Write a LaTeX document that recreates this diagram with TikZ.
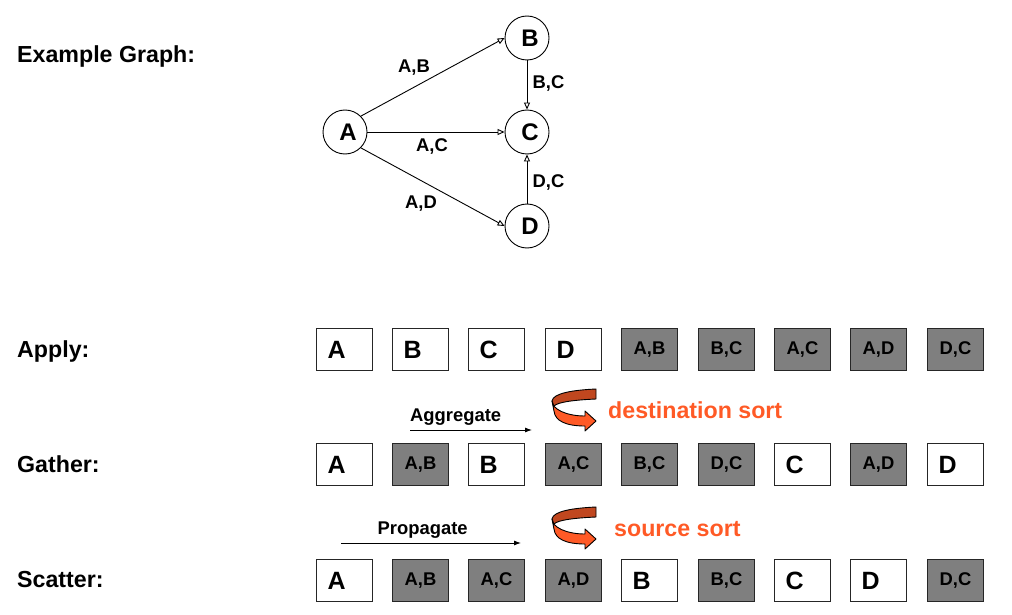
\documentclass[tikz,border=0pt]{standalone}
\usepackage{fontspec}
\setmainfont{Liberation Sans}
\usetikzlibrary{arrows.meta}
\newcommand{\fs}[1]{\fontsize{#1}{#1}\selectfont\bfseries}
\definecolor{grayfill}{HTML}{7F7F7F}
\definecolor{ribbonfront}{HTML}{FF5A26}
\definecolor{ribbonback}{HTML}{C0471F}
\tikzset{
  vertex/.style={circle,draw=black,line width=0.9pt,fill=white,inner sep=0pt,minimum size=44pt,font=\fs{24}},
  wbox/.style={rectangle,draw=black!85,line width=1pt,fill=white,minimum height=42pt,inner xsep=11pt,inner ysep=0pt,text width=34pt,align=left,font=\fs{25}},
  gbox/.style={rectangle,draw=black!85,line width=1pt,fill=grayfill,minimum height=42pt,minimum width=56pt,inner sep=0pt,font=\fs{18.4}},
  heading/.style={anchor=base west,inner sep=0pt,font=\fs{23.2}},
  edgelabel/.style={inner sep=0pt,font=\fs{18.4}},
  opstext/.style={anchor=base west,inner sep=0pt,font=\fs{18.4}},
  sorttext/.style={anchor=base west,inner sep=0pt,text=ribbonfront,font=\fs{23.2}},
  graphedge/.style={-{Triangle[open,length=7pt,width=6pt]},line width=0.9pt},
  oparrow/.style={-{Latex[length=7pt,width=5pt]},line width=0.9pt},
  ribbonline/.style={draw=black,line width=0.9pt,line join=round}
}
\newcommand{\ribbon}[2]{%
  \begin{scope}[shift={(#1,#2)}]
    \path[ribbonline,fill=ribbonback] (44,0) .. controls (22,1) and (1,4) .. (0,12) -- (2,17)
      .. controls (6,13) and (22,11) .. (44,10) -- cycle;
    \path[ribbonline,fill=ribbonfront] (0,12) .. controls (0,20) and (14,27) .. (33,27)
      -- (33,22) -- (44,32) -- (33,42) -- (33,37)
      .. controls (14,37) and (3,32) .. (2,22) -- cycle;
  \end{scope}}
\begin{document}
\begin{tikzpicture}[x=1pt,y=-1pt]
\useasboundingbox (0,0) rectangle (1012,615);
% headings
\node[heading] (hgraph) at (17,63) {Example Graph:};
\node[heading] (happly) at (17,357) {Apply:};
\node[heading] (hgather) at (17,472) {Gather:};
\node[heading] (hscatter) at (17,587) {Scatter:};
% graph
\node[vertex,text depth=0pt] (A) at (345,132) {\raisebox{-1pt}{\hspace*{6pt}A}};
\node[vertex] (B) at (527,38) {\raisebox{-1pt}{\hspace*{6pt}B}};
\node[vertex] (C) at (527,132) {\raisebox{-1pt}{\hspace*{6pt}C}};
\node[vertex] (D) at (527,226) {\raisebox{-1pt}{\hspace*{6pt}D}};
\draw[graphedge] (A.45) -- (B.west);
\draw[graphedge] (A) -- (C);
\draw[graphedge] (A.-45) -- (D.west);
\draw[graphedge] (B) -- (C);
\draw[graphedge] (D) -- (C);
\node[edgelabel] (lab) at (414,68) {A,B};
\node[edgelabel] (lac) at (432,147) {A,C};
\node[edgelabel] (lad) at (421,204) {A,D};
\node[edgelabel] (lbc) at (548.5,84) {B,C};
\node[edgelabel] (ldc) at (548.5,182) {D,C};
% apply row
\node[wbox] (a1) at (344.5,349.5) {A};
\node[wbox] (a2) at (420.5,349.5) {B};
\node[wbox] (a3) at (496.5,349.5) {C};
\node[wbox] (a4) at (573.5,349.5) {D};
\node[gbox] (a5) at (649.5,349.5) {A,B};
\node[gbox] (a6) at (726.5,349.5) {B,C};
\node[gbox] (a7) at (802.5,349.5) {A,C};
\node[gbox] (a8) at (878.5,349.5) {A,D};
\node[gbox] (a9) at (955.5,349.5) {D,C};
% gather row
\node[wbox] (g1) at (344.5,464.5) {A};
\node[gbox] (g2) at (420.5,464.5) {A,B};
\node[wbox] (g3) at (496.5,464.5) {B};
\node[gbox] (g4) at (573.5,464.5) {A,C};
\node[gbox] (g5) at (649.5,464.5) {B,C};
\node[gbox] (g6) at (726.5,464.5) {D,C};
\node[wbox] (g7) at (802.5,464.5) {C};
\node[gbox] (g8) at (878.5,464.5) {A,D};
\node[wbox] (g9) at (955.5,464.5) {D};
% scatter row
\node[wbox] (s1) at (344.5,580.5) {A};
\node[gbox] (s2) at (420.5,580.5) {A,B};
\node[gbox] (s3) at (496.5,580.5) {A,C};
\node[gbox] (s4) at (573.5,580.5) {A,D};
\node[wbox] (s5) at (649.5,580.5) {B};
\node[gbox] (s6) at (726.5,580.5) {B,C};
\node[wbox] (s7) at (802.5,580.5) {C};
\node[wbox] (s8) at (878.5,580.5) {D};
\node[gbox] (s9) at (955.5,580.5) {D,C};
% operations
\node[opstext] (aggr) at (410,421) {Aggregate};
\coordinate (aggrs) at (410,430);
\coordinate (aggre) at (532,430);
\draw[oparrow] (aggrs) -- (aggre);
\node[opstext] (prop) at (377.5,534) {Propagate};
\coordinate (props) at (341,543);
\coordinate (prope) at (521,543);
\draw[oparrow] (props) -- (prope);
\ribbon{552}{389}
\ribbon{552}{507}
\node[sorttext] (dsort) at (608,418) {destination sort};
\node[sorttext] (ssort) at (614,536) {source sort};
\end{tikzpicture}
\end{document}
